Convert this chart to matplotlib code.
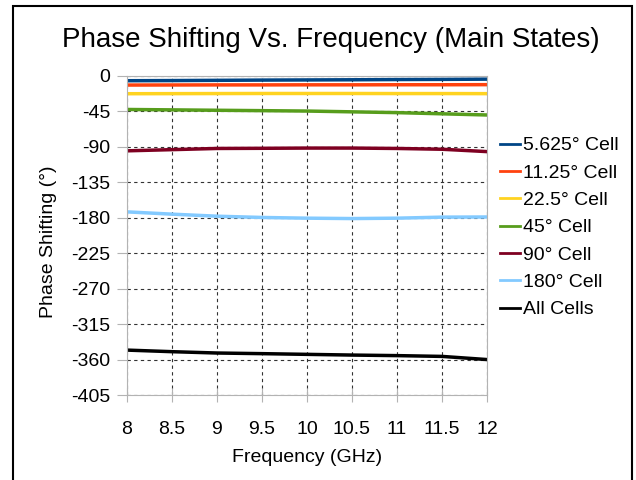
import matplotlib
matplotlib.use("Agg")
import matplotlib.pyplot as plt
from matplotlib.patches import Rectangle

plt.rcParams['font.family'] = ['Liberation Sans', 'DejaVu Sans']
plt.rcParams['axes.unicode_minus'] = False

freq = [8, 8.5, 9, 9.5, 10, 10.5, 11, 11.5, 12]

# phase shift (deg)
cell_5625 = [-6, -5.8, -5.5, -5.2, -5, -4.8, -4.5, -4.3, -4]
cell_1125 = [-11.5, -11.4, -11.3, -11.3, -11.2, -11.2, -11.1, -11.1, -11]
cell_225 = [-22.5, -22.4, -22.3, -22.2, -22.2, -22.2, -22.3, -22.3, -22.4]
cell_45 = [-42.5, -43, -43.5, -44, -44.5, -45.5, -46.5, -48, -49.5]
cell_90 = [-95, -93.5, -92, -91.8, -91.5, -91.5, -92, -93, -96]
cell_180 = [-172.5, -175.4, -178, -179.6, -180.5, -181, -180.5, -179.2, -179]
all_cells = [-348, -350, -351.7, -352.5, -353.4, -354.3, -355, -356, -360]

labels = ['5.625° Cell', '11.25° Cell', '22.5° Cell', '45° Cell',
          '90° Cell', '180° Cell', 'All Cells']
colors = ['#004586', '#ff420e', '#ffd320', '#579d1c', '#7e0021', '#83caff', '#000000']
series = [cell_5625, cell_1125, cell_225, cell_45, cell_90, cell_180, all_cells]

yticks = list(range(0, -406, -45))
xticklabels = ['8', '8.5', '9', '9.5', '10', '10.5', '11', '11.5', '12']

fig = plt.figure(figsize=(6.36, 4.8), dpi=100)
ax = fig.add_axes([127 / 636, 1 - 395 / 480, 360 / 636, 319 / 480])

for vals, lab, c in zip(series, labels, colors):
    ax.plot(freq, vals, color=c, lw=2.5, label=lab)

ax.set_xlim(8, 12)
ax.set_ylim(-405, 0)
ax.set_xticks(freq)
ax.set_xticklabels(xticklabels)
ax.set_yticks(yticks)
ax.grid(True, color='#333333', ls=(0, (3, 3)), lw=0.8)
for s in ax.spines.values():
    s.set_color('#b3b3b3')
ax.tick_params(axis='y', direction='out', length=7, color='#b3b3b3', labelsize=14, pad=5)
ax.tick_params(axis='x', direction='inout', length=10, color='#b3b3b3', labelsize=14, pad=13.5)

ax.set_xlabel('Frequency (GHz)', fontsize=14, labelpad=8)
ax.set_ylabel('Phase Shifting (°)', fontsize=14)
ax.yaxis.set_label_coords(-0.195, 0.481)
fig.text(0.52, 1 - 40 / 480, 'Phase Shifting Vs. Frequency (Main States)',
         ha='center', va='center', fontsize=20)

leg = ax.legend(loc='upper left', bbox_to_anchor=(492 / 636, 1 - 129 / 480),
                bbox_transform=fig.transFigure, borderaxespad=0, frameon=False,
                fontsize=14, handlelength=1.05, handletextpad=0.15, labelspacing=0.5)
for h in leg.get_lines():
    h.set_linewidth(2)

# outer frame of the picture
fig.patches.append(Rectangle((13 / 636, -0.05), 619 / 636, 1.05 - 6 / 480,
                             transform=fig.transFigure, fill=False,
                             edgecolor='black', lw=1.5))

fig.savefig('out.png', dpi=100)
